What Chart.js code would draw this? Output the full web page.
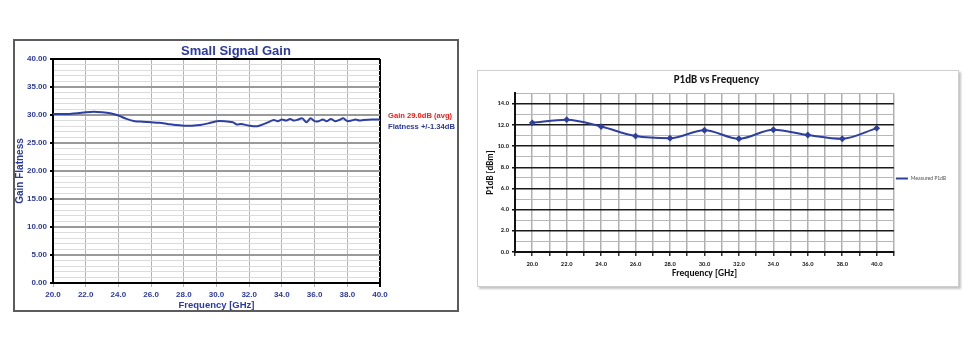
<!DOCTYPE html>
<html>
<head>
<meta charset="utf-8">
<script src="https://cdn.jsdelivr.net/npm/chart.js@4/dist/chart.umd.min.js"></script>
<style>
  body { margin: 0; background: #fff; width: 970px; height: 364px; position: relative; overflow: hidden; }
  .box { position: absolute; box-sizing: border-box; }
  #gainBox { left: 13px; top: 39px; width: 446px; height: 273px; border: 2px solid #5c5c5c; }
  #p1Box { left: 477px; top: 70px; width: 482px; height: 217px; border: 1px solid #cfcfcf; box-shadow: 2px 2px 2px #c4c4c4; }
  canvas { position: absolute; }
  .note { position: absolute; left: 388px; font: bold 7.6px "Liberation Sans", Arial, sans-serif; white-space: nowrap; }
</style>
</head>
<body>
<div class="box" id="gainBox"></div>
<div class="box" id="p1Box"></div>
<canvas id="gainChart" width="446" height="273" style="left:13px;top:39px"></canvas>
<canvas id="p1dbChart" width="482" height="217" style="left:477px;top:70px"></canvas>
<div class="note" style="top:111px;color:#e8231c">Gain 29.0dB (avg)</div>
<div class="note" style="top:122px;color:#2b3a9c">Flatness +/-1.34dB</div>

<script>
// small signal gain trace
const gainFreq = [20.0, 20.5, 21.0, 21.5, 22.0, 22.5, 23.0, 23.5, 24.0, 24.5, 25.0, 25.5, 26.0, 26.5, 27.0, 27.5,
  28.0, 28.5, 29.0, 29.5, 30.0, 30.5, 31.0, 31.25, 31.5, 32.0, 32.5, 33.0, 33.5, 33.75, 34.0, 34.25, 34.5, 34.75,
  35.0, 35.25, 35.5, 35.75, 36.0, 36.25, 36.5, 36.75, 37.0, 37.25, 37.5, 37.75, 38.0, 38.25, 38.5, 38.75, 39.0, 39.5, 40.0];
const gainValues = [30.2, 30.2, 30.2, 30.3, 30.5, 30.6, 30.5, 30.3, 29.9, 29.3, 28.9, 28.8, 28.7, 28.6, 28.4, 28.2,
  28.1, 28.1, 28.2, 28.5, 28.9, 28.9, 28.7, 28.3, 28.4, 28.1, 28.0, 28.5, 29.1, 28.9, 29.2, 29.0, 29.3, 29.0,
  29.2, 29.4, 28.7, 29.4, 28.9, 28.9, 29.2, 28.9, 29.3, 28.9, 29.1, 29.4, 28.9, 29.0, 29.2, 29.0, 29.1, 29.2, 29.2];

// P1dB measured points
const p1dbFreq = [20, 22, 24, 26, 28, 30, 32, 34, 36, 38, 40];
const p1dbValues = [12.2, 12.5, 11.85, 10.95, 10.75, 11.5, 10.7, 11.55, 11.05, 10.7, 11.7];

const gainBlue = '#2b3a9c';
const arial = 'Liberation Sans';
const calibri = 'Carlito, Lato';

new Chart(document.getElementById('gainChart'), {
  type: 'line',
  data: {
    datasets: [{
      label: 'Gain',
      data: gainFreq.map((f, i) => ({ x: f, y: gainValues[i] })),
      borderColor: '#2c3fa6',
      borderWidth: 2,
      pointRadius: 0,
      tension: 0.3
    }]
  },
  options: {
    responsive: false,
    animation: false,
    plugins: {
      legend: { display: false },
      tooltip: { enabled: false },
      title: {
        display: true,
        text: 'Small Signal Gain',
        color: gainBlue,
        font: { family: arial, size: 13, weight: 'bold', lineHeight: 1.0 },
        padding: { top: 6, bottom: 1 }
      }
    },
    scales: {
      x: {
        type: 'linear',
        min: 20,
        max: 40,
        afterFit: s => { s.height = 29; },
        ticks: {
          stepSize: 2,
          padding: 3,
          color: gainBlue,
          font: { family: arial, size: 8, weight: 'bold' },
          callback: v => v.toFixed(1)
        },
        grid: {
          color: ctx => ctx.tick && ctx.tick.value === 40 ? '#000' : '#b4b4b4',
          lineWidth: ctx => ctx.tick && ctx.tick.value === 40 ? 2 : 1,
          tickLength: 4
        },
        border: { color: '#000', width: 2 },
        title: {
          display: true,
          text: 'Frequency [GHz]',
          color: gainBlue,
          font: { family: arial, size: 9.5, weight: 'bold' },
          padding: { top: 0, bottom: 1 }
        }
      },
      y: {
        min: 0,
        max: 40,
        afterFit: s => { s.width = 40; },
        ticks: {
          stepSize: 1,
          autoSkip: false,
          padding: 3,
          color: gainBlue,
          font: { family: arial, size: 8, weight: 'bold' },
          callback: v => v % 5 === 0 ? v.toFixed(2) : ''
        },
        grid: {
          color: ctx => {
            const v = ctx.tick ? ctx.tick.value : 0;
            if (v === 40) return '#000';
            return v % 5 === 0 ? '#9a9a9a' : '#dcdcdc';
          },
          lineWidth: ctx => ctx.tick && ctx.tick.value % 5 === 0 ? 2 : 1,
          tickColor: ctx => ctx.tick && ctx.tick.value % 5 === 0 ? '#000' : 'rgba(0,0,0,0)',
          tickLength: 3
        },
        border: { color: '#000', width: 2 },
        title: {
          display: true,
          text: 'Gain Flatness',
          color: gainBlue,
          font: { family: arial, size: 10, weight: 'bold' },
          padding: { top: 1, bottom: 0 }
        }
      },
      // empty right-hand axis, only keeps room for the notes so the title stays centred on the box
      yNotes: {
        position: 'right',
        min: 0,
        max: 40,
        afterFit: s => { s.width = 79; },
        ticks: { display: false },
        grid: { display: false },
        border: { display: false }
      }
    }
  }
});

new Chart(document.getElementById('p1dbChart'), {
  type: 'line',
  data: {
    datasets: [{
      label: 'Measured P1dB',
      data: p1dbFreq.map((f, i) => ({ x: f, y: p1dbValues[i] })),
      borderColor: '#2e3f9f',
      backgroundColor: '#2e3f9f',
      borderWidth: 2,
      pointStyle: 'rectRot',
      pointRadius: 2,
      tension: 0.4,
      cubicInterpolationMode: 'monotone'
    }]
  },
  options: {
    responsive: false,
    animation: false,
    layout: { padding: { right: 3 } },
    plugins: {
      tooltip: { enabled: false },
      title: {
        display: true,
        text: 'P1dB vs Frequency',
        color: '#111',
        font: { family: calibri, size: 11, weight: 'bold', lineHeight: 1.2 },
        padding: { top: 4, bottom: 6 }
      },
      legend: {
        position: 'right',
        labels: {
          usePointStyle: true,
          pointStyle: 'line',
          pointStyleWidth: 12,
          padding: 2,
          color: '#555',
          font: { family: calibri, size: 5.5 }
        }
      }
    },
    scales: {
      x: {
        type: 'linear',
        min: 19,
        max: 41,
        afterFit: s => { s.height = 35; },
        ticks: {
          stepSize: 1,
          autoSkip: false,
          maxRotation: 0,
          padding: 4,
          color: '#222',
          font: { family: calibri, size: 6.5, weight: 'bold' },
          callback: v => (v % 2 === 0 ? v.toFixed(1) : '')
        },
        grid: { color: '#b0b0b0', lineWidth: 1.5, tickLength: 4, tickColor: '#333' },
        border: { color: '#111', width: 2 },
        title: {
          display: true,
          text: 'Frequency [GHz]',
          color: '#111',
          font: { family: calibri, size: 9.5, weight: 'bold' },
          padding: { top: 0, bottom: 8 }
        }
      },
      y: {
        min: 0,
        max: 15,
        afterFit: s => { s.width = 38; },
        ticks: {
          stepSize: 1,
          autoSkip: false,
          padding: 3,
          color: '#222',
          font: { family: calibri, size: 6.5, weight: 'bold' },
          callback: v => (v % 2 === 0 ? v.toFixed(1) : '')
        },
        grid: {
          color: ctx => ctx.tick && ctx.tick.value % 2 === 0 ? '#1a1a1a' : '#b8b8b8',
          lineWidth: ctx => ctx.tick && ctx.tick.value % 2 === 0 ? 1.5 : 1,
          tickColor: ctx => ctx.tick && ctx.tick.value % 2 === 0 ? '#111' : 'rgba(0,0,0,0)',
          tickLength: 3
        },
        border: { color: '#111', width: 2 },
        title: {
          display: true,
          text: 'P1dB [dBm]',
          color: '#111',
          font: { family: calibri, size: 9, weight: 'bold' },
          padding: { top: 8, bottom: 0 }
        }
      }
    }
  }
});
</script>
</body>
</html>
